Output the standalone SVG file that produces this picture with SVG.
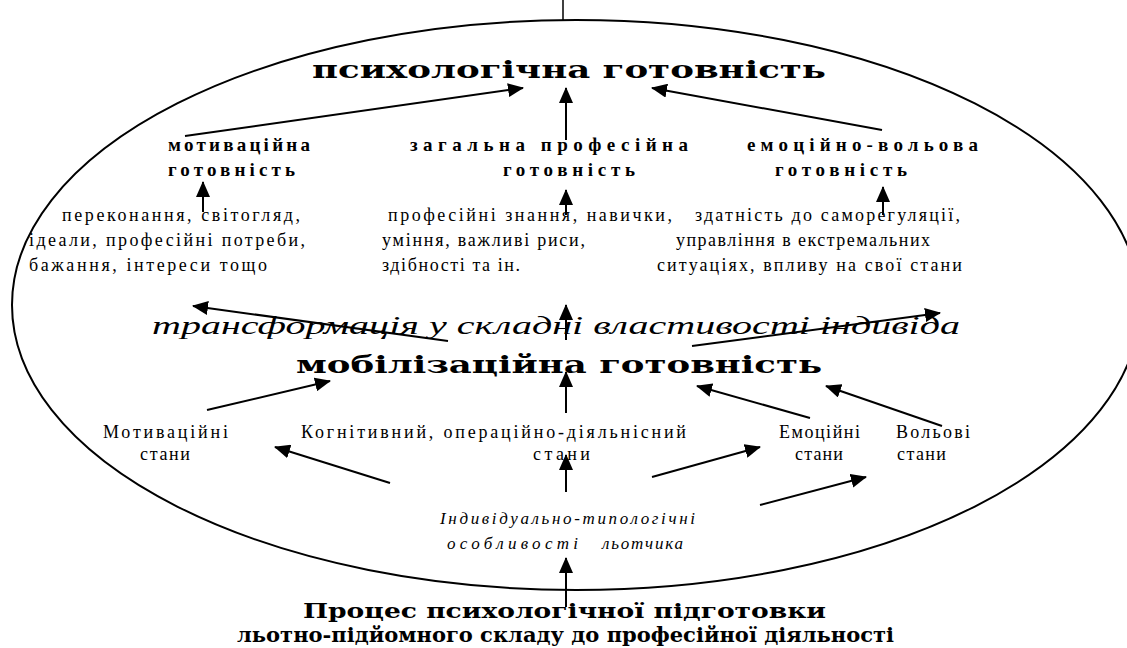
<svg xmlns="http://www.w3.org/2000/svg" width="1127" height="648" viewBox="0 0 1127 648">
<defs>
<marker id="ah" markerUnits="userSpaceOnUse" markerWidth="16" markerHeight="14" refX="15" refY="7" orient="auto">
<path d="M0,0 L16,7 L0,14 Z" fill="#000"/>
</marker>
<style>
.c{stroke:#000;stroke-width:2;fill:none;marker-end:url(#ah)}
.big{font-family:"DejaVu Serif","Liberation Serif",serif;font-weight:bold;font-size:25px;fill:#000}
.bot{font-family:"DejaVu Serif","Liberation Serif",serif;font-weight:bold;font-size:21px;fill:#000}
.hd{font-family:"Liberation Serif",serif;font-weight:bold;font-size:19px;fill:#000}
.tx{font-family:"Liberation Serif",serif;font-size:18px;fill:#000}
.it{font-family:"Liberation Serif",serif;font-style:italic;font-size:25px;fill:#000}
.it2{font-family:"Liberation Serif",serif;font-style:italic;font-size:17px;fill:#000}
</style>
</defs>
<rect width="1127" height="648" fill="#fff"/>
<g id="frame">
<line x1="563" y1="0" x2="563" y2="21" stroke="#000" stroke-width="1.5"/>
<ellipse cx="576" cy="305" rx="564" ry="285" fill="none" stroke="#000" stroke-width="2"/>
</g>
<g id="connectors">
<line class="c" x1="185" y1="136" x2="523" y2="88"/>
<line class="c" x1="566" y1="140" x2="566" y2="88"/>
<line class="c" x1="882" y1="130" x2="652" y2="88"/>
<line class="c" x1="203" y1="212" x2="203" y2="182"/>
<line class="c" x1="566" y1="215" x2="566" y2="190"/>
<line class="c" x1="883" y1="215" x2="883" y2="187"/>
<line class="c" x1="448" y1="341" x2="193" y2="306"/>
<line class="c" x1="566" y1="340" x2="566" y2="305"/>
<line class="c" x1="692" y1="346" x2="940" y2="313"/>
<line class="c" x1="207" y1="410" x2="330" y2="381"/>
<line class="c" x1="566" y1="413" x2="566" y2="372"/>
<line class="c" x1="810" y1="418" x2="697" y2="386"/>
<line class="c" x1="942" y1="426" x2="826" y2="386"/>
<line class="c" x1="390" y1="483" x2="275" y2="447"/>
<line class="c" x1="566" y1="492" x2="566" y2="455"/>
<line class="c" x1="652" y1="477" x2="760" y2="447"/>
<line class="c" x1="760" y1="505" x2="866" y2="477"/>
<line class="c" x1="566" y1="607" x2="566" y2="558"/>
</g>
<g id="psych">
<text class="big" x="312" y="78" textLength="514" lengthAdjust="spacingAndGlyphs">психологічна готовність</text>
</g>
<g id="motiv">
<text class="hd" x="168" y="151" textLength="142" lengthAdjust="spacing">мотиваційна</text>
<text class="hd" x="168" y="176" textLength="127" lengthAdjust="spacing">готовність</text>
</g>
<g id="general">
<text class="hd" x="410" y="151" textLength="278" lengthAdjust="spacing">загальна професійна</text>
<text class="hd" x="503" y="176" textLength="132" lengthAdjust="spacing">готовність</text>
</g>
<g id="emovol">
<text class="hd" x="747" y="151" textLength="231" lengthAdjust="spacing">емоційно-вольова</text>
<text class="hd" x="775" y="176" textLength="132" lengthAdjust="spacing">готовність</text>
</g>
<g id="motiv-desc">
<text class="tx" x="62" y="221" textLength="238" lengthAdjust="spacing">переконання, світогляд,</text>
<text class="tx" x="29" y="246" textLength="276" lengthAdjust="spacing">ідеали, професійні потреби,</text>
<text class="tx" x="29" y="271" textLength="238" lengthAdjust="spacing">бажання, інтереси тощо</text>
</g>
<g id="general-desc">
<text class="tx" x="388" y="221" textLength="284" lengthAdjust="spacing">професійні знання, навички,</text>
<text class="tx" x="382" y="246" textLength="203" lengthAdjust="spacing">уміння, важливі риси,</text>
<text class="tx" x="382" y="271" textLength="138" lengthAdjust="spacing">здібності та ін.</text>
</g>
<g id="emovol-desc">
<text class="tx" x="695" y="221" textLength="265" lengthAdjust="spacing">здатність до саморегуляції,</text>
<text class="tx" x="676" y="246" textLength="254" lengthAdjust="spacing">управління в екстремальних</text>
<text class="tx" x="657" y="271" textLength="305" lengthAdjust="spacing">ситуаціях, впливу на свої стани</text>
</g>
<g id="transform">
<text class="it" x="152" y="334" textLength="808" lengthAdjust="spacingAndGlyphs">трансформація у складні властивості індивіда</text>
</g>
<g id="mobil">
<text class="big" x="296" y="373" textLength="526" lengthAdjust="spacingAndGlyphs">мобілізаційна готовність</text>
</g>
<g id="motiv-states">
<text class="tx" x="103" y="438" textLength="125" lengthAdjust="spacing">Мотиваційні</text>
<text class="tx" x="140" y="460" textLength="50" lengthAdjust="spacing">стани</text>
</g>
<g id="cogn-states">
<text class="tx" x="301" y="438" textLength="385" lengthAdjust="spacing">Когнітивний, операційно-діяльнісний</text>
<text class="tx" x="533" y="460" textLength="57" lengthAdjust="spacing">стани</text>
</g>
<g id="emo-states">
<text class="tx" x="779" y="438" textLength="81" lengthAdjust="spacing">Емоційні</text>
<text class="tx" x="795" y="460" textLength="48" lengthAdjust="spacing">стани</text>
</g>
<g id="vol-states">
<text class="tx" x="896" y="438" textLength="74" lengthAdjust="spacing">Вольові</text>
<text class="tx" x="897" y="460" textLength="49" lengthAdjust="spacing">стани</text>
</g>
<g id="individual">
<text class="it2" x="440" y="524" textLength="255" lengthAdjust="spacing">Індивідуально-типологічні</text>
<text class="it2" y="549"><tspan x="447" textLength="131" lengthAdjust="spacing">особливості</tspan><tspan x="602" textLength="81" lengthAdjust="spacing">льотчика</tspan></text>
</g>
<g id="process">
<text class="bot" x="303" y="618" textLength="523" lengthAdjust="spacingAndGlyphs">Процес психологічної підготовки</text>
<text class="bot" x="237" y="642" textLength="657" lengthAdjust="spacingAndGlyphs">льотно-підйомного складу до професійної діяльності</text>
</g>
</svg>
